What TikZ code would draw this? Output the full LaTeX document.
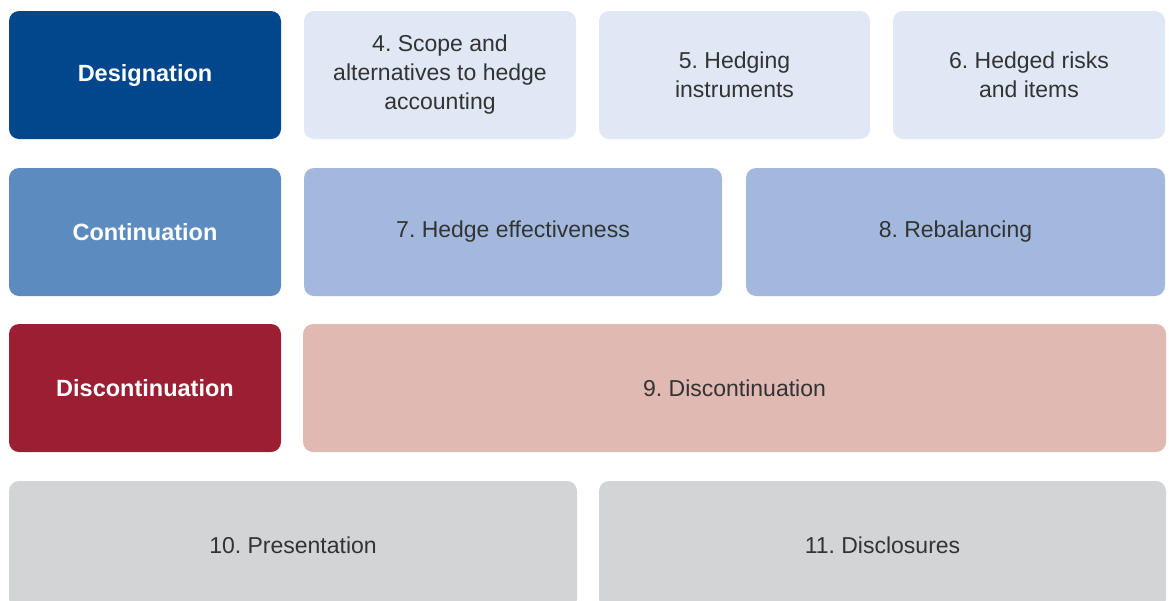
\documentclass[tikz,border=0pt]{standalone}
\usepackage{fontspec}
\setmainfont{Liberation Sans}
\frenchspacing
\definecolor{darkblue}{HTML}{02478C}
\definecolor{midblue}{HTML}{5B8BBF}
\definecolor{darkred}{HTML}{9B1E32}
\definecolor{paleblue}{HTML}{DFE8F4}
\definecolor{softblue}{HTML}{A2B9DD}
\definecolor{softred}{HTML}{E0B9B2}
\definecolor{softgrey}{HTML}{D3D4D6}
\definecolor{textgrey}{HTML}{333333}
\tikzset{
  box/.style={rounded corners=10pt, minimum height=128pt, inner sep=0pt,
    align=center, font=\fontsize{23}{29}\selectfont},
  phase/.style={box, text=white, font=\fontsize{23.5}{29}\selectfont\bfseries, minimum width=272pt},
  topic/.style={box, text=textgrey}
}
\begin{document}
\begin{tikzpicture}[x=1pt, y=-1pt]
            \useasboundingbox (0,0) rectangle (1169,600);
            % phases
            \node[phase, fill=darkblue] (desig) at (145,75) {Designation};
            \node[phase, fill=midblue] (cont) at (145,232) {Continuation};
            \node[phase, fill=darkred] (discont) at (145,388) {Discontinuation};
            % designation topics
            \node[topic, fill=paleblue, minimum width=272pt] (scope) at (440,75) {4. Scope and\\alternatives to hedge\\accounting};
            \node[topic, fill=paleblue, minimum width=271pt] (instr) at (734.5,75) {5. Hedging\\instruments};
            \node[topic, fill=paleblue, minimum width=272pt] (risks) at (1029,75) {6. Hedged risks\\and items};
            % continuation topics
            \node[topic, fill=softblue, minimum width=418pt] (effect) at (513,232) {7. Hedge effectiveness};
            \node[topic, fill=softblue, minimum width=419pt] (rebal) at (955.5,232) {8. Rebalancing};
            % discontinuation topic
            \node[topic, fill=softred, minimum width=863pt] (stop) at (734.5,388) {9. Discontinuation};
            % general topics
            \node[topic, fill=softgrey, minimum width=568pt] (pres) at (293,545) {10. Presentation};
            \node[topic, fill=softgrey, minimum width=567pt] (discl) at (882.5,545) {11. Disclosures};
        \end{tikzpicture}
\end{document}
